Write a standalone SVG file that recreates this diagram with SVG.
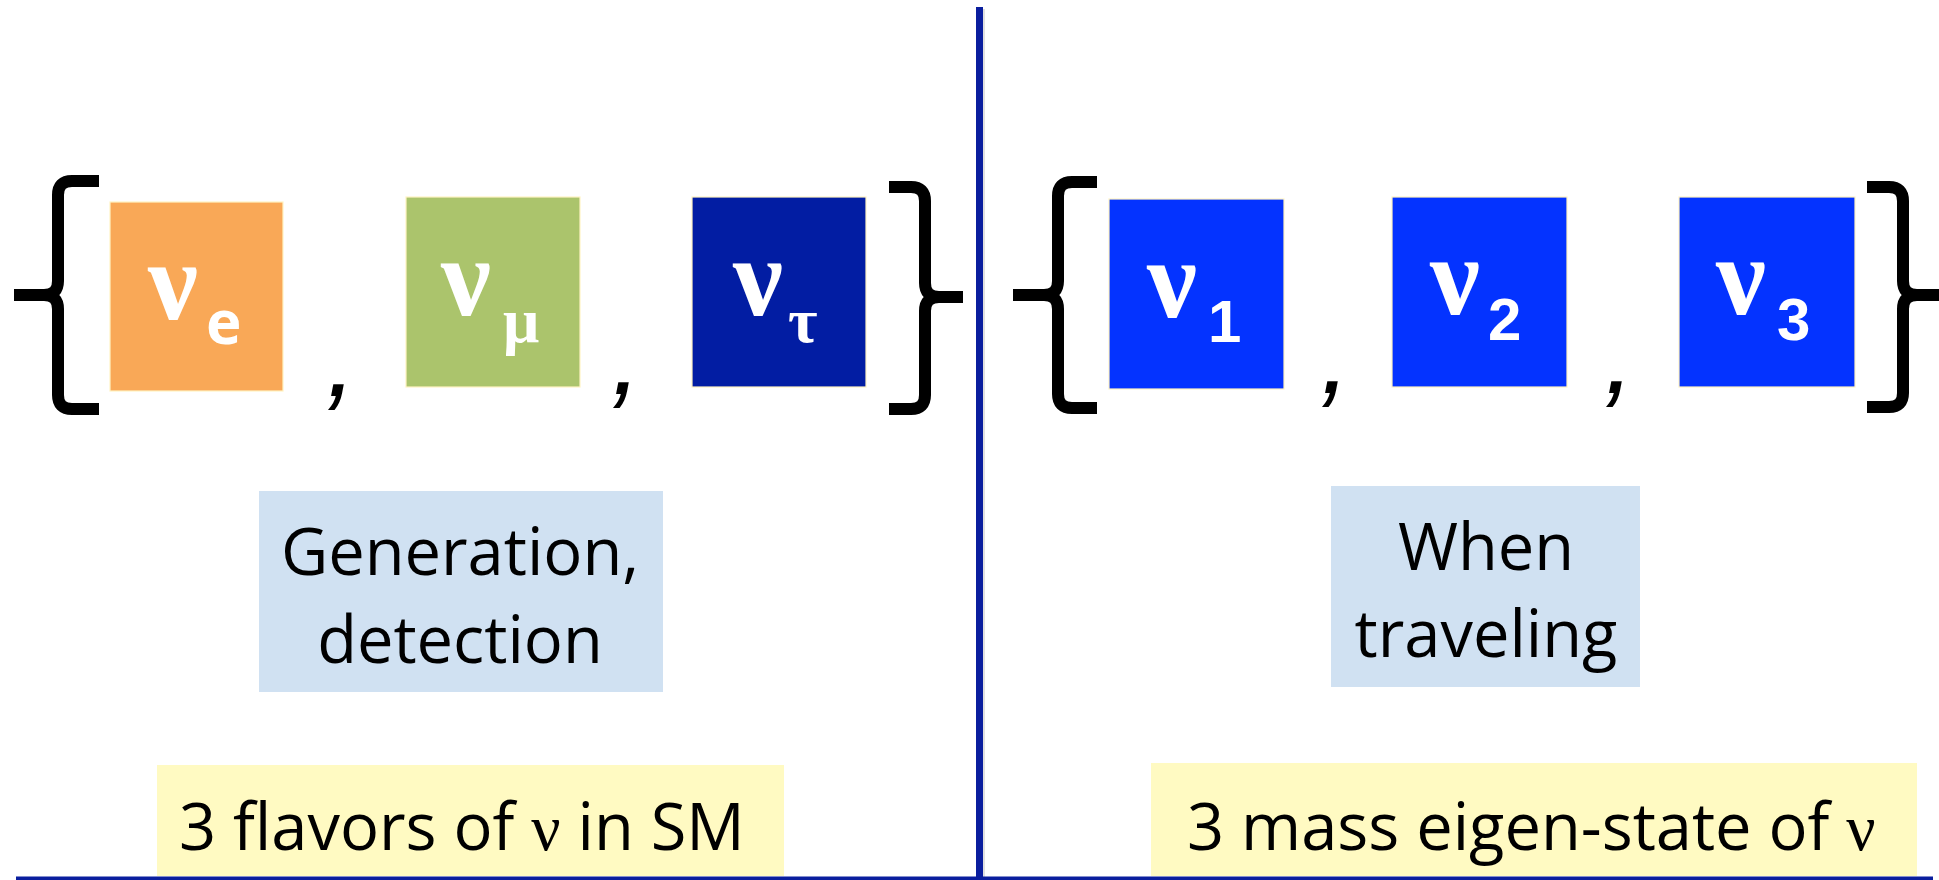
<svg xmlns="http://www.w3.org/2000/svg" width="1939" height="880" viewBox="0 0 1939 880">
<defs>
<style>
.box{stroke:#FFF3C4;stroke-width:1.2}
.brace{fill:none;stroke:#000;stroke-width:12;stroke-linejoin:round}
.nu{font-family:"Liberation Serif","Times New Roman",serif;font-weight:bold;font-size:112px;fill:#fff}
.sube{font-family:"Open Sans","Liberation Sans",sans-serif;font-weight:bold;font-size:60px}
.subg{font-family:"Liberation Serif","Times New Roman",serif;font-weight:bold;font-size:64px}
.subd{font-family:"Liberation Sans",Arial,sans-serif;font-weight:bold;font-size:60px}
.comma{font-family:"Liberation Sans",Arial,sans-serif;font-style:italic;font-size:110px;fill:#000}
.lbl{font-family:"Open Sans","Liberation Sans",sans-serif;font-size:65px;fill:#000;text-anchor:middle}
.cap{font-family:"Open Sans","Liberation Sans",sans-serif;font-size:65px;fill:#000}
.gr{font-family:"Liberation Serif","Times New Roman",serif}
.line{fill:#0A1E9E}
</style>
</defs>
<rect width="1939" height="880" fill="#fff"/>

<g id="dividers">
<rect x="978" y="9" width="7" height="871" fill="#000" opacity="0.12"/>
<rect class="line" x="976" y="7" width="7" height="873"/>
<rect class="line" x="16" y="876.5" width="1917" height="3.5"/>
</g>

<g id="brace-left-1"><path class="brace" d="M99,181 H72 Q58,181 58,195 V281 Q58,295 44,295 H14 M14,295 H44 Q58,295 58,309 V395 Q58,409 72,409 H99"/></g>
<g id="brace-right-1"><path class="brace" d="M889,187 H911 Q925,187 925,201 V283 Q925,297 939,297 H963 M963,297 H939 Q925,297 925,311 V395 Q925,409 911,409 H889"/></g>
<g id="brace-left-2"><path class="brace" d="M1097,182 H1072 Q1058,182 1058,196 V281 Q1058,295 1044,295 H1013 M1013,295 H1044 Q1058,295 1058,309 V394 Q1058,408 1072,408 H1097"/></g>
<g id="brace-right-2"><path class="brace" d="M1867,187 H1889 Q1903,187 1903,201 V281 Q1903,295 1917,295 H1945 M1945,295 H1917 Q1903,295 1903,309 V393 Q1903,407 1889,407 H1867"/></g>

<g id="commas">
<text class="comma" x="326" y="396">,</text>
<text class="comma" x="611" y="394">,</text>
<text class="comma" x="1320" y="393">,</text>
<text class="comma" x="1604" y="393">,</text>
</g>

<g id="nu-e">
<rect class="box" x="110" y="202" width="173" height="189" fill="#F9A857"/>
<text class="nu" x="148" y="319">ν<tspan class="sube" x="206" y="344">e</tspan></text>
</g>
<g id="nu-mu">
<rect class="box" x="406" y="197" width="174" height="190" fill="#ABC46C"/>
<text class="nu" x="441" y="315">ν<tspan class="subg" x="503" y="342">μ</tspan></text>
</g>
<g id="nu-tau">
<rect class="box" x="692" y="197" width="174" height="190" fill="#021DA3"/>
<text class="nu" x="733" y="315">ν<tspan class="subg" x="788" y="342">τ</tspan></text>
</g>

<g id="nu-1">
<rect class="box" x="1109" y="199" width="175" height="190" fill="#0433FF"/>
<text class="nu" x="1147" y="317">ν<tspan class="subd" x="1208" y="342">1</tspan></text>
</g>
<g id="nu-2">
<rect class="box" x="1392" y="197" width="175" height="190" fill="#0433FF"/>
<text class="nu" x="1430" y="314">ν<tspan class="subd" x="1488" y="340">2</tspan></text>
</g>
<g id="nu-3">
<rect class="box" x="1679" y="197" width="176" height="190" fill="#0433FF"/>
<text class="nu" x="1716" y="314">ν<tspan class="subd" x="1777" y="340">3</tspan></text>
</g>

<g id="generation-detection">
<rect x="259" y="491" width="404" height="201" fill="#D0E1F2"/>
<text class="lbl" x="460" y="575">Generation,</text>
<text class="lbl" x="460" y="663">detection</text>
</g>
<g id="when-traveling">
<rect x="1331" y="486" width="309" height="201" fill="#D0E1F2"/>
<text class="lbl" x="1486" y="570">When</text>
<text class="lbl" x="1486" y="657">traveling</text>
</g>

<g id="flavors">
<rect x="157" y="765" width="627" height="111" fill="#FFFAC2"/>
<text class="cap" x="179" y="850">3 flavors of <tspan class="gr">ν</tspan> in SM</text>
</g>
<g id="mass-states">
<rect x="1151" y="763" width="766" height="113" fill="#FFFAC2"/>
<text class="cap" x="1187" y="850">3 mass eigen-state of <tspan class="gr">ν</tspan></text>
</g>
</svg>
